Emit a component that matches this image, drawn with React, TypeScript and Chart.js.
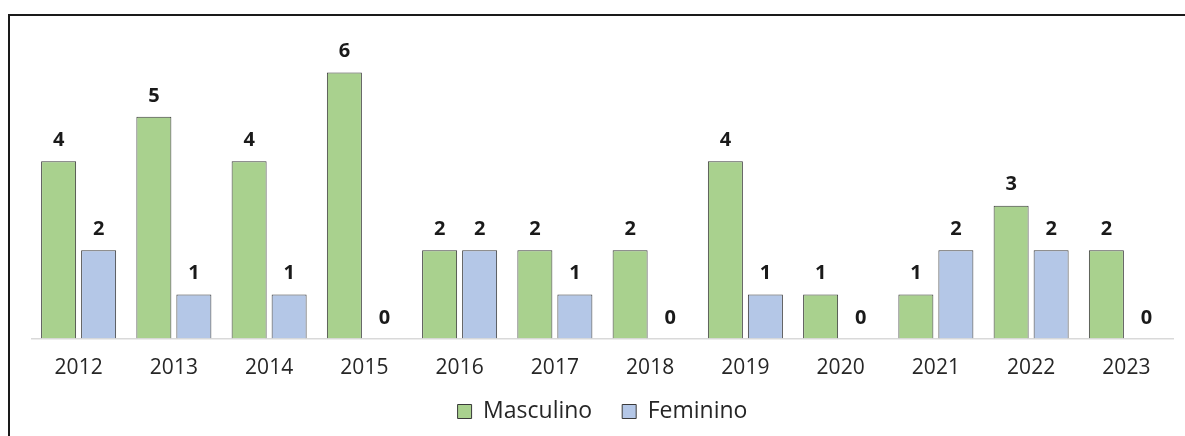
import React, { useEffect, useRef } from "react";
import { Chart, registerables } from "chart.js";

Chart.register(...registerables);

const categories = ["2012", "2013", "2014", "2015", "2016", "2017", "2018", "2019", "2020", "2021", "2022", "2023"];
const masculino = [4, 5, 4, 6, 2, 2, 2, 4, 1, 1, 3, 2];
const feminino = [2, 1, 1, 0, 2, 1, 0, 1, 0, 2, 2, 0];
const seriesNames = ["Masculino", "Feminino"];

const FONT = "'Open Sans', 'DejaVu Sans', sans-serif";

const dataLabels = {
  id: "dataLabels",
  afterLayout(chart: any) {
    // pull the legend a little closer to the axis labels
    if (chart.legend) {
      chart.legend.top -= 11;
      chart.legend.bottom -= 11;
    }
  },
  afterDatasetsDraw(chart: any) {
    const ctx = chart.ctx;
    ctx.save();
    ctx.font = `bold 20px ${FONT}`;
    ctx.fillStyle = "#1a1a1a";
    ctx.textAlign = "center";
    ctx.textBaseline = "middle";
    chart.data.datasets.forEach((ds: any, di: number) => {
      const meta = chart.getDatasetMeta(di);
      meta.data.forEach((el: any, i: number) => {
        ctx.fillText(String(ds.data[i]), el.x, el.y - 21);
      });
    });
    ctx.restore();
  },
};

export default function App() {
  const ref = useRef<HTMLCanvasElement>(null);
  useEffect(() => {
    if (!ref.current) return;
    const chart = new Chart(ref.current, {
      type: "bar",
      data: {
        labels: categories,
        datasets: [
          {
            label: seriesNames[0],
            data: masculino,
            backgroundColor: "#A9D18E",
            borderColor: "#3a3a3a",
            borderWidth: 1,
          },
          {
            label: seriesNames[1],
            data: feminino,
            backgroundColor: "#B4C7E7",
            borderColor: "#3a3a3a",
            borderWidth: 1,
          },
        ],
      },
      options: {
        responsive: false,
        animation: false,
        events: [],
        datasets: { bar: { categoryPercentage: 0.84, barPercentage: 0.875 } },
        layout: { padding: { left: 21, right: 11, top: 12, bottom: 12 } },
        plugins: {
          tooltip: { enabled: false },
          legend: {
            position: "bottom",
            labels: {
              boxWidth: 14,
              boxHeight: 14,
              padding: 30,
              color: "#262626",
              font: { family: FONT, size: 23 },
            },
          },
        },
        scales: {
          x: {
            grid: { display: false },
            border: { display: false },
            ticks: {
              color: "#262626",
              padding: 8,
              font: { family: FONT, size: 21 },
              maxRotation: 0,
            },
            afterFit(scale: any) {
              scale.height = 42;
            },
          },
          y: {
            min: 0,
            max: 7,
            ticks: { display: false, stepSize: 1 },
            border: { display: false },
            grid: {
              drawTicks: false,
              color: (c: any) => (c.tick && c.tick.value === 0 ? "#d9d9d9" : "rgba(0,0,0,0)"),
              lineWidth: 1.5,
            },
            afterFit(scale: any) {
              scale.width = 0;
            },
          },
        },
      },
      plugins: [dataLabels],
    });
    return () => chart.destroy();
  }, []);

  return (
    <div
      style={{
        position: "fixed",
        left: 8,
        top: 14,
        width: 1177,
        height: 422,
        boxSizing: "border-box",
        borderTop: "2px solid #1a1a1a",
        borderLeft: "2px solid #1a1a1a",
        background: "#fff",
        overflow: "hidden",
      }}
    >
      <canvas ref={ref} width={1175} height={440} style={{ display: "block" }} />
    </div>
  );
}
